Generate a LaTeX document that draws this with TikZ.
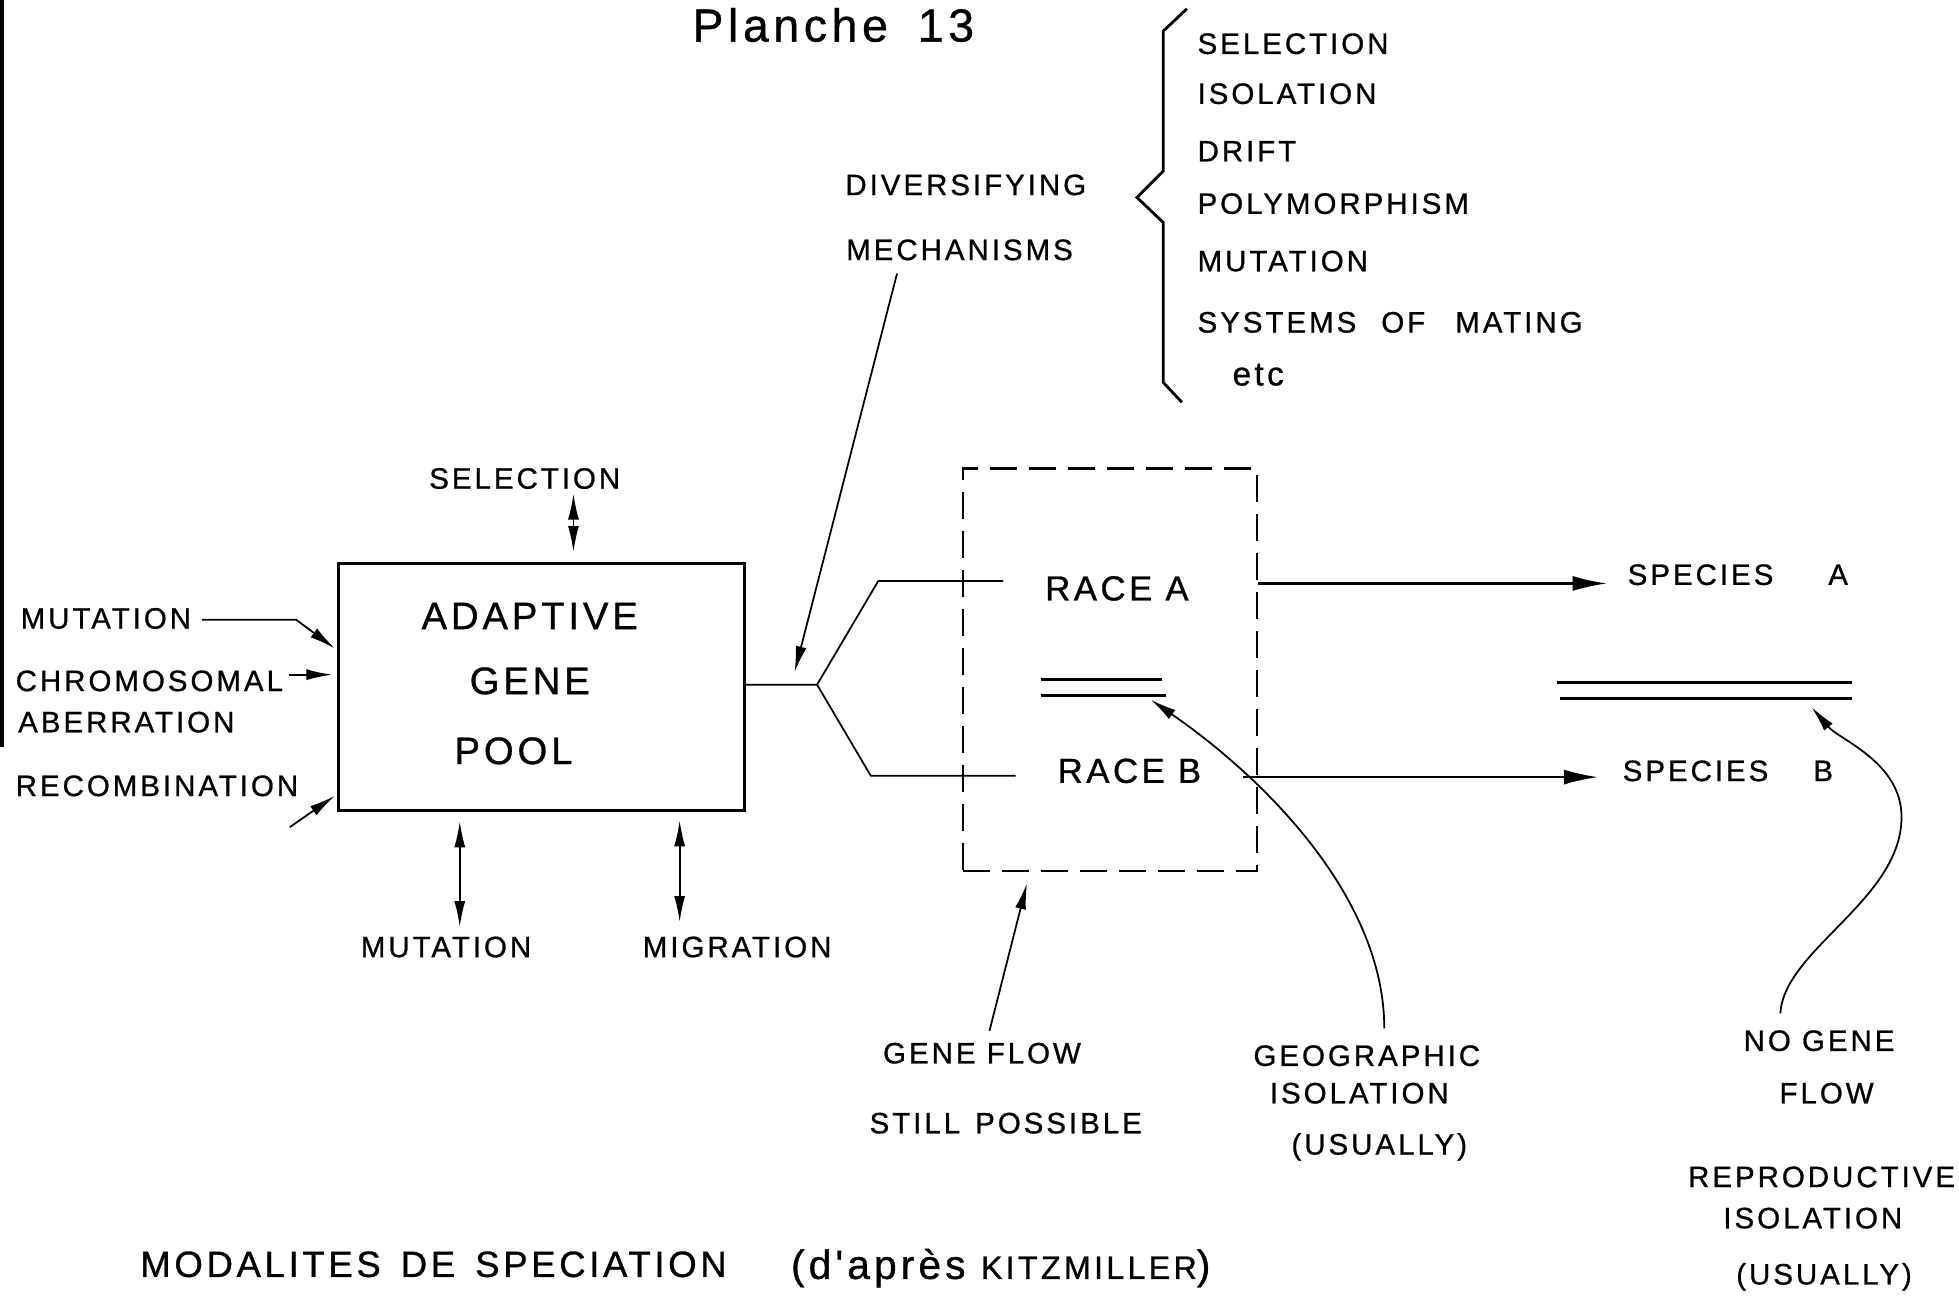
\documentclass[tikz,border=0pt]{standalone}
\usepackage{fontspec}
\newfontfamily\lettering[LetterSpace=10, FakeBold=0.8]{Liberation Sans}
\usetikzlibrary{arrows.meta}

\tikzset{
    lbl/.style={font=\lettering\fontsize{8.4}{10}\selectfont, inner sep=0pt},
    big/.style={font=\lettering\fontsize{10.9}{13}\selectfont, inner sep=0pt},
    race/.style={font=\lettering\fontsize{9.9}{12}\selectfont, inner sep=0pt},
    head/.style={font=\lettering\fontsize{13.2}{16}\selectfont, inner sep=0pt},
    foot/.style={font=\lettering\fontsize{10.4}{13}\selectfont, inner sep=0pt},
    pool/.style={draw, line width=0.8pt, minimum width=4.0625cm, minimum height=2.475cm},
    rbox/.style={draw, line width=0.7pt, dash pattern=on 0.27cm off 0.12cm,
        minimum width=2.9375cm, minimum height=4.025cm},
    bar/.style={line width=0.8pt},
    tip/.style={-{Latex[length=0.26cm, width=0.11cm]}, line width=0.5pt},
    bigtip/.style={-{Latex[length=0.34cm, width=0.15cm]}, line width=0.6pt},
    both/.style={{Latex[length=0.26cm, width=0.11cm]}-{Latex[length=0.26cm, width=0.11cm]}, line width=0.5pt},
}

\begin{document}
\begin{tikzpicture}[x=0.0125cm, y=-0.0125cm]
\fill[white] (0, 0) rectangle (1568, 1044);
\useasboundingbox (0, 0) rectangle (1568, 1044);
\fill (0, 0) rectangle (3, 598);

\begin{scope}
    % Define nodes
    \draw (667, 20) node[head] (T1) {Planche\hspace{0.3cm}13};

    \draw (958, 35) node[lbl, anchor=west] (K1) {SELECTION};
    \draw (958, 75) node[lbl, anchor=west] (K2) {ISOLATION};
    \draw (958, 121) node[lbl, anchor=west] (K3) {DRIFT};
    \draw (958, 163) node[lbl, anchor=west] (K4) {POLYMORPHISM};
    \draw (958, 209) node[lbl, anchor=west] (K5) {MUTATION};
    \draw (958, 258) node[lbl, anchor=west] (K6) {SYSTEMS\hspace{0.25cm}OF\hspace{0.3cm}MATING};
    \draw (986, 300) node[lbl, anchor=west, font=\lettering\fontsize{9.5}{11}\selectfont] (K7) {etc};

    \draw (773, 148) node[lbl] (D1) {DIVERSIFYING};
    \draw (768, 200) node[lbl] (D2) {MECHANISMS};

    \draw (433.5, 550) node[pool] (P1) {};
    \draw (424, 493) node[big] (P2) {ADAPTIVE};
    \draw (424, 545) node[big] (P3) {GENE};
    \draw (411, 601) node[big] (P4) {POOL};

    \draw (420, 383) node[lbl] (S1) {SELECTION};
    \draw (357, 758) node[lbl] (S2) {MUTATION};
    \draw (590, 758) node[lbl] (S3) {MIGRATION};

    \draw (16, 495) node[lbl, anchor=west] (L1) {MUTATION};
    \draw (12, 545) node[lbl, anchor=west] (L2) {CHROMOSOMAL};
    \draw (14, 578) node[lbl, anchor=west] (L3) {ABERRATION};
    \draw (12, 629) node[lbl, anchor=west] (L4) {RECOMBINATION};

    \draw (888.5, 536) node[rbox] (BOX) {};
    \draw (894, 471) node[race] (RA) {RACE A};
    \draw (904, 617) node[race] (RB) {RACE B};

    \draw (1391, 460) node[lbl] (SA) {SPECIES\hspace{0.55cm}A};
    \draw (1383, 617) node[lbl] (SB) {SPECIES\hspace{0.45cm}B};

    \draw (786, 843) node[lbl] (GF1) {GENE FLOW};
    \draw (805, 899) node[lbl] (GF2) {STILL\hspace{0.15cm}POSSIBLE};
    \draw (1094, 845) node[lbl] (GEO1) {GEOGRAPHIC};
    \draw (1088, 875) node[lbl] (GEO2) {ISOLATION};
    \draw (1104, 918) node[lbl] (GEO3) {(USUALLY)};
    \draw (1456, 833) node[lbl] (NO1) {NO GENE};
    \draw (1462, 875) node[lbl] (NO2) {FLOW};
    \draw (1458, 942) node[lbl] (RI1) {REPRODUCTIVE};
    \draw (1451, 975) node[lbl] (RI2) {ISOLATION};
    \draw (1460, 1022) node[lbl] (RI3) {(USUALLY)};

    \draw (347, 1012) node[foot] (F1) {MODALITES\hspace{0.2cm}DE\hspace{0.2cm}SPECIATION};
    \draw (801, 1015) node[foot, font=\lettering\fontsize{11.6}{14}\selectfont] (F2)
        {(d'après {\fontsize{9.2}{11}\selectfont KITZMILLER})};

    % brace over the list
    \draw[line width=0.8pt] (950, 7) -- (931, 25) -- (931, 137) -- (910, 158)
        -- (931, 178) -- (931, 306) -- (946, 322);

    % arrows into the pool
    \coordinate (IN1) at (268, 519);
    \coordinate (IN2) at (266, 540);
    \coordinate (IN3) at (268, 637);
    \coordinate (R0) at (232, 662);
    \draw[tip] (L1.east) ++(8, 1) -- (237, 496) -- (IN1);
    \draw[tip] (L2.east) ++(4, -5) -- (IN2);
    \draw[tip] (R0) -- (IN3);

    \coordinate (U1) at (459, 395);
    \draw[both, shorten >=0.1cm] (U1) -- (U1 |- P1.north);
    \coordinate (U2) at (368, 742);
    \draw[both, shorten >=0.09cm] (U2) -- (U2 |- P1.south);
    \coordinate (U3) at (544, 738);
    \draw[both, shorten >=0.08cm] (U3) -- (U3 |- P1.south);

    % split into the two races
    \coordinate (FK) at (654, 548);
    \draw[line width=0.5pt] (P1.east |- FK) -- (FK) -- (703, 465) -- (803, 465);
    \draw[line width=0.5pt] (FK) -- (697, 621) -- (813, 621);
    \coordinate (FK0) at (636, 538);
    \draw[tip] (D2.south) ++(-50, 10) -- (FK0);

    % races to species
    \coordinate (EA) at (1286, 467);
    \coordinate (EB) at (1279, 622);
    \draw[bigtip] (BOX.east |- EA) -- (EA);
    \draw[bigtip] (BOX.east |- EB) ++(-12, 0) -- (EB);

    \draw[bar] (833, 544) -- (930, 544);
    \draw[bar] (833, 557) -- (933, 557);
    \draw[bar] (1246, 546) -- (1482, 546);
    \draw[bar] (1249, 559) -- (1482, 559);

    % pointers from the notes below
    \draw[tip] (GF1.north) ++(6, -9) -- (822, 707);
    \draw[tip] (GEO1.north) ++(14, -13) .. controls (1108, 720) and (1015, 625) .. (921, 560);
    \draw[tip] (NO1.north) ++(-31, -13) .. controls (1428, 760) and (1522, 720) .. (1522, 654)
        .. controls (1522, 610) and (1472, 592) .. (1450, 566);
\end{scope}

\end{tikzpicture}
\end{document}
